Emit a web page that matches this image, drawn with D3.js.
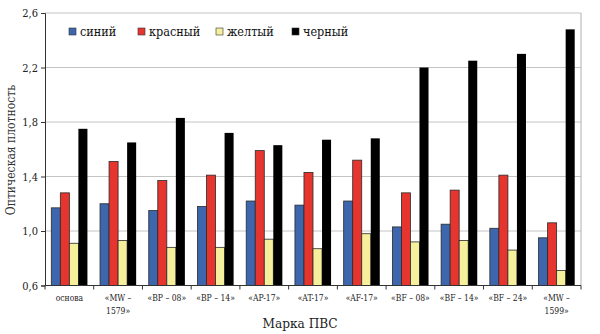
<!DOCTYPE html>
<html>
<head>
<meta charset="utf-8">
<script src="https://cdn.jsdelivr.net/npm/d3@7"></script>
<style>
  body { margin: 0; background: #fff; }
</style>
</head>
<body>
<svg id="chart" width="600" height="334"></svg>
<script>
// PVA grades along the x axis (multi-line labels split by "\n")
const categories = ["основа", "«MW –\n1579»", "«BP – 08»", "«BP – 14»", "«AP-17»", "«AT-17»",
                    "«AF-17»", "«BF – 08»", "«BF – 14»", "«BF – 24»", "«MW –\n1599»"];
const seriesNames = ["синий", "красный", "желтый", "черный"];
const blue   = [1.17, 1.20, 1.15, 1.18, 1.22, 1.19, 1.22, 1.03, 1.05, 1.02, 0.95];
const red    = [1.28, 1.51, 1.37, 1.41, 1.59, 1.43, 1.52, 1.28, 1.30, 1.41, 1.06];
const yellow = [0.91, 0.93, 0.88, 0.88, 0.94, 0.87, 0.98, 0.92, 0.93, 0.86, 0.71];
const black  = [1.75, 1.65, 1.83, 1.72, 1.63, 1.67, 1.68, 2.20, 2.25, 2.30, 2.48];
const yTicks = [0.6, 1.0, 1.4, 1.8, 2.2, 2.6];

const series = [blue, red, yellow, black];
const fills = ["#3d66ad", "#e6352f", "#f6f09c", "#000000"];
const serif = "'DejaVu Serif Condensed', 'DejaVu Serif', serif";

const svg = d3.select("#chart");
const margin = { left: 45, right: 19, top: 13, bottom: 48.5 };
const W = 600, H = 334;
const fmt = v => d3.format(".1f")(v).replace(".", ",");

const x0 = d3.scaleBand().domain(categories).range([margin.left, W - margin.right]).paddingInner(0).paddingOuter(0);
const x1 = d3.scaleBand().domain(d3.range(4)).range([6.3, x0.bandwidth() - 6.3]).padding(0);
const y = d3.scaleLinear().domain([0.6, 2.6]).range([H - margin.bottom, margin.top]);

// horizontal gridlines
svg.append("g").selectAll("line").data(yTicks.slice(1)).join("line")
  .attr("x1", margin.left).attr("x2", W - margin.right)
  .attr("y1", d => y(d)).attr("y2", d => y(d))
  .attr("stroke", "#c4c4c4").attr("stroke-width", 1);

// right border of the plot area
svg.append("line")
  .attr("x1", W - margin.right).attr("x2", W - margin.right)
  .attr("y1", margin.top).attr("y2", H - margin.bottom)
  .attr("stroke", "#b0b0b0");

// bars
const groups = svg.append("g").selectAll("g").data(categories).join("g")
  .attr("transform", d => `translate(${x0(d)},0)`);
groups.selectAll("rect").data((d, i) => series.map((s, k) => ({ k, v: s[i] }))).join("rect")
  .attr("x", d => x1(d.k))
  .attr("width", x1.bandwidth())
  .attr("y", d => y(d.v))
  .attr("height", d => y(0.6) - y(d.v))
  .attr("fill", d => fills[d.k])
  .attr("stroke", d => d.k === 3 ? "none" : "#2a2a2a")
  .attr("stroke-width", 0.8);

// y axis
const yAxis = svg.append("g").attr("transform", `translate(${margin.left},0)`)
  .call(d3.axisLeft(y).tickValues(yTicks).tickFormat(fmt).tickSize(4).tickPadding(3));
yAxis.attr("font-family", serif);
yAxis.select(".domain").attr("stroke", "#333");
yAxis.selectAll(".tick line").attr("stroke", "#333");
yAxis.selectAll("text").attr("font-size", 11).attr("fill", "#222");

// x axis
const xAxis = svg.append("g").attr("transform", `translate(0,${y(0.6)})`)
  .attr("font-family", serif);
xAxis.append("line").attr("x1", margin.left).attr("x2", W - margin.right)
  .attr("stroke", "#333");
xAxis.selectAll("line.tk").data(d3.range(categories.length + 1)).join("line")
  .attr("class", "tk")
  .attr("x1", i => margin.left + i * x0.bandwidth())
  .attr("x2", i => margin.left + i * x0.bandwidth())
  .attr("y1", 0).attr("y2", 4).attr("stroke", "#333");
xAxis.selectAll("text").data(categories).join("text")
  .attr("text-anchor", "middle")
  .attr("font-size", 8.5)
  .attr("fill", "#222")
  .attr("transform", d => `translate(${x0(d) + x0.bandwidth() / 2},0)`)
  .each(function (d) {
    const lines = d.split("\n");
    d3.select(this).selectAll("tspan").data(lines).join("tspan")
      .attr("x", 0).attr("y", (l, i) => 15 + i * 13).text(l => l);
  });

// axis titles
svg.append("text").attr("x", 300).attr("y", 328).attr("text-anchor", "middle")
  .attr("font-size", 13.5).attr("fill", "#222").attr("font-family", serif).text("Марка ПВС");
svg.append("text").attr("transform", "translate(15,150) rotate(-90)")
  .attr("text-anchor", "middle").attr("font-size", 12).attr("fill", "#333")
  .attr("font-family", serif)
  .text("Оптическая плотность");

// legend
const legendX = [69, 138, 216, 292];
const legend = svg.append("g").selectAll("g").data(seriesNames).join("g")
  .attr("transform", (d, i) => `translate(${legendX[i]},28)`);
legend.append("rect").attr("width", 7).attr("height", 7)
  .attr("fill", (d, i) => fills[i]).attr("stroke", "#333").attr("stroke-width", 0.6);
legend.append("text").attr("x", 11).attr("y", 8).attr("font-size", 12.5)
  .attr("fill", "#111").attr("font-family", serif).text(d => d);
</script>
</body>
</html>
